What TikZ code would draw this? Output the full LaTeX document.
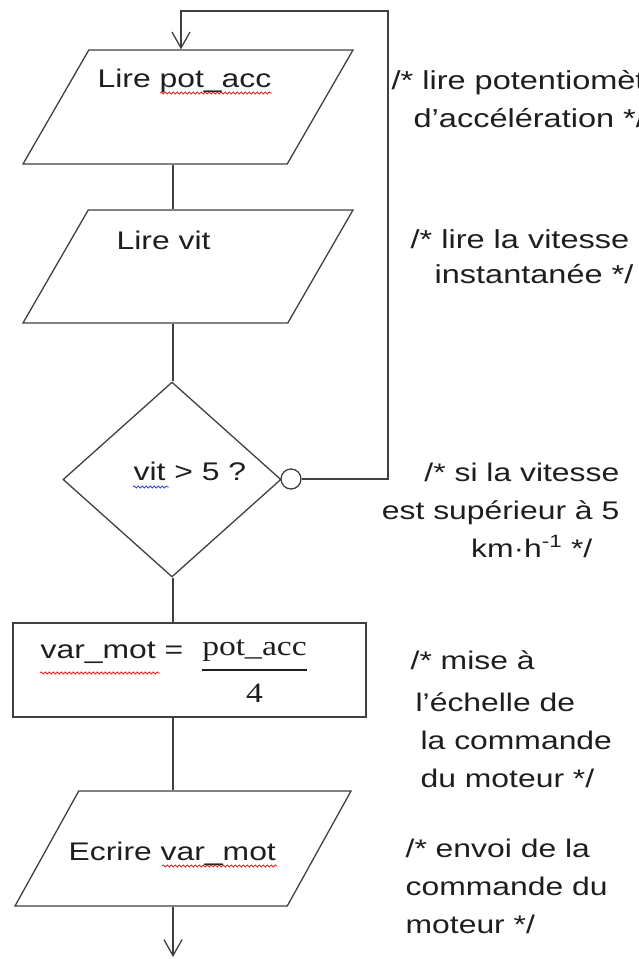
\documentclass[tikz,border=0pt]{standalone}
\usepackage{fontspec}
\setmainfont{Liberation Sans}[FakeStretch=1.25]
\newfontfamily\eqfont{Liberation Serif}[FakeStretch=1.2]
\usetikzlibrary{shapes.geometric,arrows.meta,positioning,decorations.pathmorphing}

\definecolor{linegray}{HTML}{404040}
\definecolor{inkblack}{HTML}{1E1E1E}
\definecolor{spellred}{HTML}{E02828}
\definecolor{spellblue}{HTML}{3446D8}

% fraction pot_acc / 4 in the equation font
\newcommand{\potfrac}{\raisebox{3pt}{\vtop{\eqfont\fontsize{28}{28}\selectfont
  \halign{\hfil##\hfil\cr pot\_acc\cr\noalign{\kern7.6pt\hrule height 2.8pt\kern12.6pt}4\cr}}}}

\begin{document}
\begin{tikzpicture}[
    x=1pt, y=-1pt,
    color=linegray, line width=1.3pt,
    io/.style={trapezium, trapezium left angle=60, trapezium right angle=120, trapezium stretches body, draw, minimum width=330pt, inner xsep=1pt, inner ysep=57pt},
    decision/.style={diamond, draw, minimum width=218pt, minimum height=195pt, inner sep=1pt},
    process/.style={rectangle, draw, minimum width=353pt, minimum height=94pt},
    junction/.style={circle, draw, fill=white, minimum size=20pt, inner sep=0pt},
    txt/.style={anchor=base west, inner sep=0pt, text=inkblack, font=\fontsize{25.5}{38}\selectfont},
    note/.style={txt, align=left},
    arrow/.style={-{Straight Barb[length=16pt,width=18pt]}},
    spell/.style={decorate, decoration={snake, amplitude=1.1pt, segment length=4pt}, line width=0.8pt}
]
    \useasboundingbox (0,0) rectangle (639,959);
    \clip (0,0) rectangle (639,959);

    \node[io] (rdpot) at (188,107) {};
    \node[io, inner ysep=56.5pt] (rdvit) at (188,266.5) {};
    \node[decision] (test) at (172,479.5) {};
    \node[junction] (neg) at (291,479) {};
    \node[process] (scale) at (189.5,670) {};
    \node[io, trapezium left angle=61, trapezium right angle=119, minimum width=336pt, inner ysep=57.5pt] (wrmot) at (183,848.5) {};

    \coordinate (spine) at (173,0);
    \coordinate (loopR) at (388,11);
    \coordinate (loopL) at (181,11);
    \coordinate (out) at (173,957);

    \draw (rdpot.south -| spine) -- (rdvit.north -| spine);
    \draw (rdvit.south -| spine) -- (test.north -| spine);
    \draw (test.south -| spine) -- (scale.north -| spine);
    \draw (scale.south -| spine) -- (wrmot.north -| spine);
    \draw[arrow] (wrmot.south -| spine) -- (out);
    \draw[arrow] (neg.east) -| (loopR) -- (loopL) -- (loopL |- rdpot.north);

    \node[txt] (t-rdpot) at (97,87) {Lire pot\_acc};
    \node[txt] (t-rdvit) at (116,249) {Lire vit};
    \node[txt] (t-test) at (133,480) {vit > 5 ?};
    \node[txt] (t-scale) at (40,658) {var\_mot =\hspace{19pt}\potfrac};
    \node[txt] (t-wrmot) at (68,860) {Ecrire var\_mot};

    % comments: the base anchor is on the last line
    \node[note, font=\fontsize{26}{38}\selectfont] (n-rdpot) at (391,127) {/* lire potentiomètre\\\hspace*{22pt}d’accélération */};
    \node[note, font=\fontsize{26}{38}\selectfont] (n-rdvit) at (410,283) {/* lire la vitesse\\[-3pt]\hspace*{24pt}instantanée */};
    \node[note, align=right, anchor=base east] (n-test) at (620,557) {/* si la vitesse\\est supérieur à 5\\km·h\textsuperscript{-1} */\hspace*{27pt}};
    \node[note] (n-scale) at (410,787) {/* mise à\\[4pt]\hspace*{5pt}l’échelle de\\\hspace*{10pt}la commande\\\hspace*{10pt}du moteur */};
    \node[note] (n-wrmot) at (405,933) {/* envoi de la\\commande du\\moteur */};

    % spell-check marks
    \draw[spell, spellred] (160,93) -- (272,93);
    \draw[spell, spellblue] (133,487) -- (169,487);
    \draw[spell, spellred] (40,673) -- (160,673);
    \draw[spell, spellred] (162,866) -- (277,866);
\end{tikzpicture}
\end{document}
